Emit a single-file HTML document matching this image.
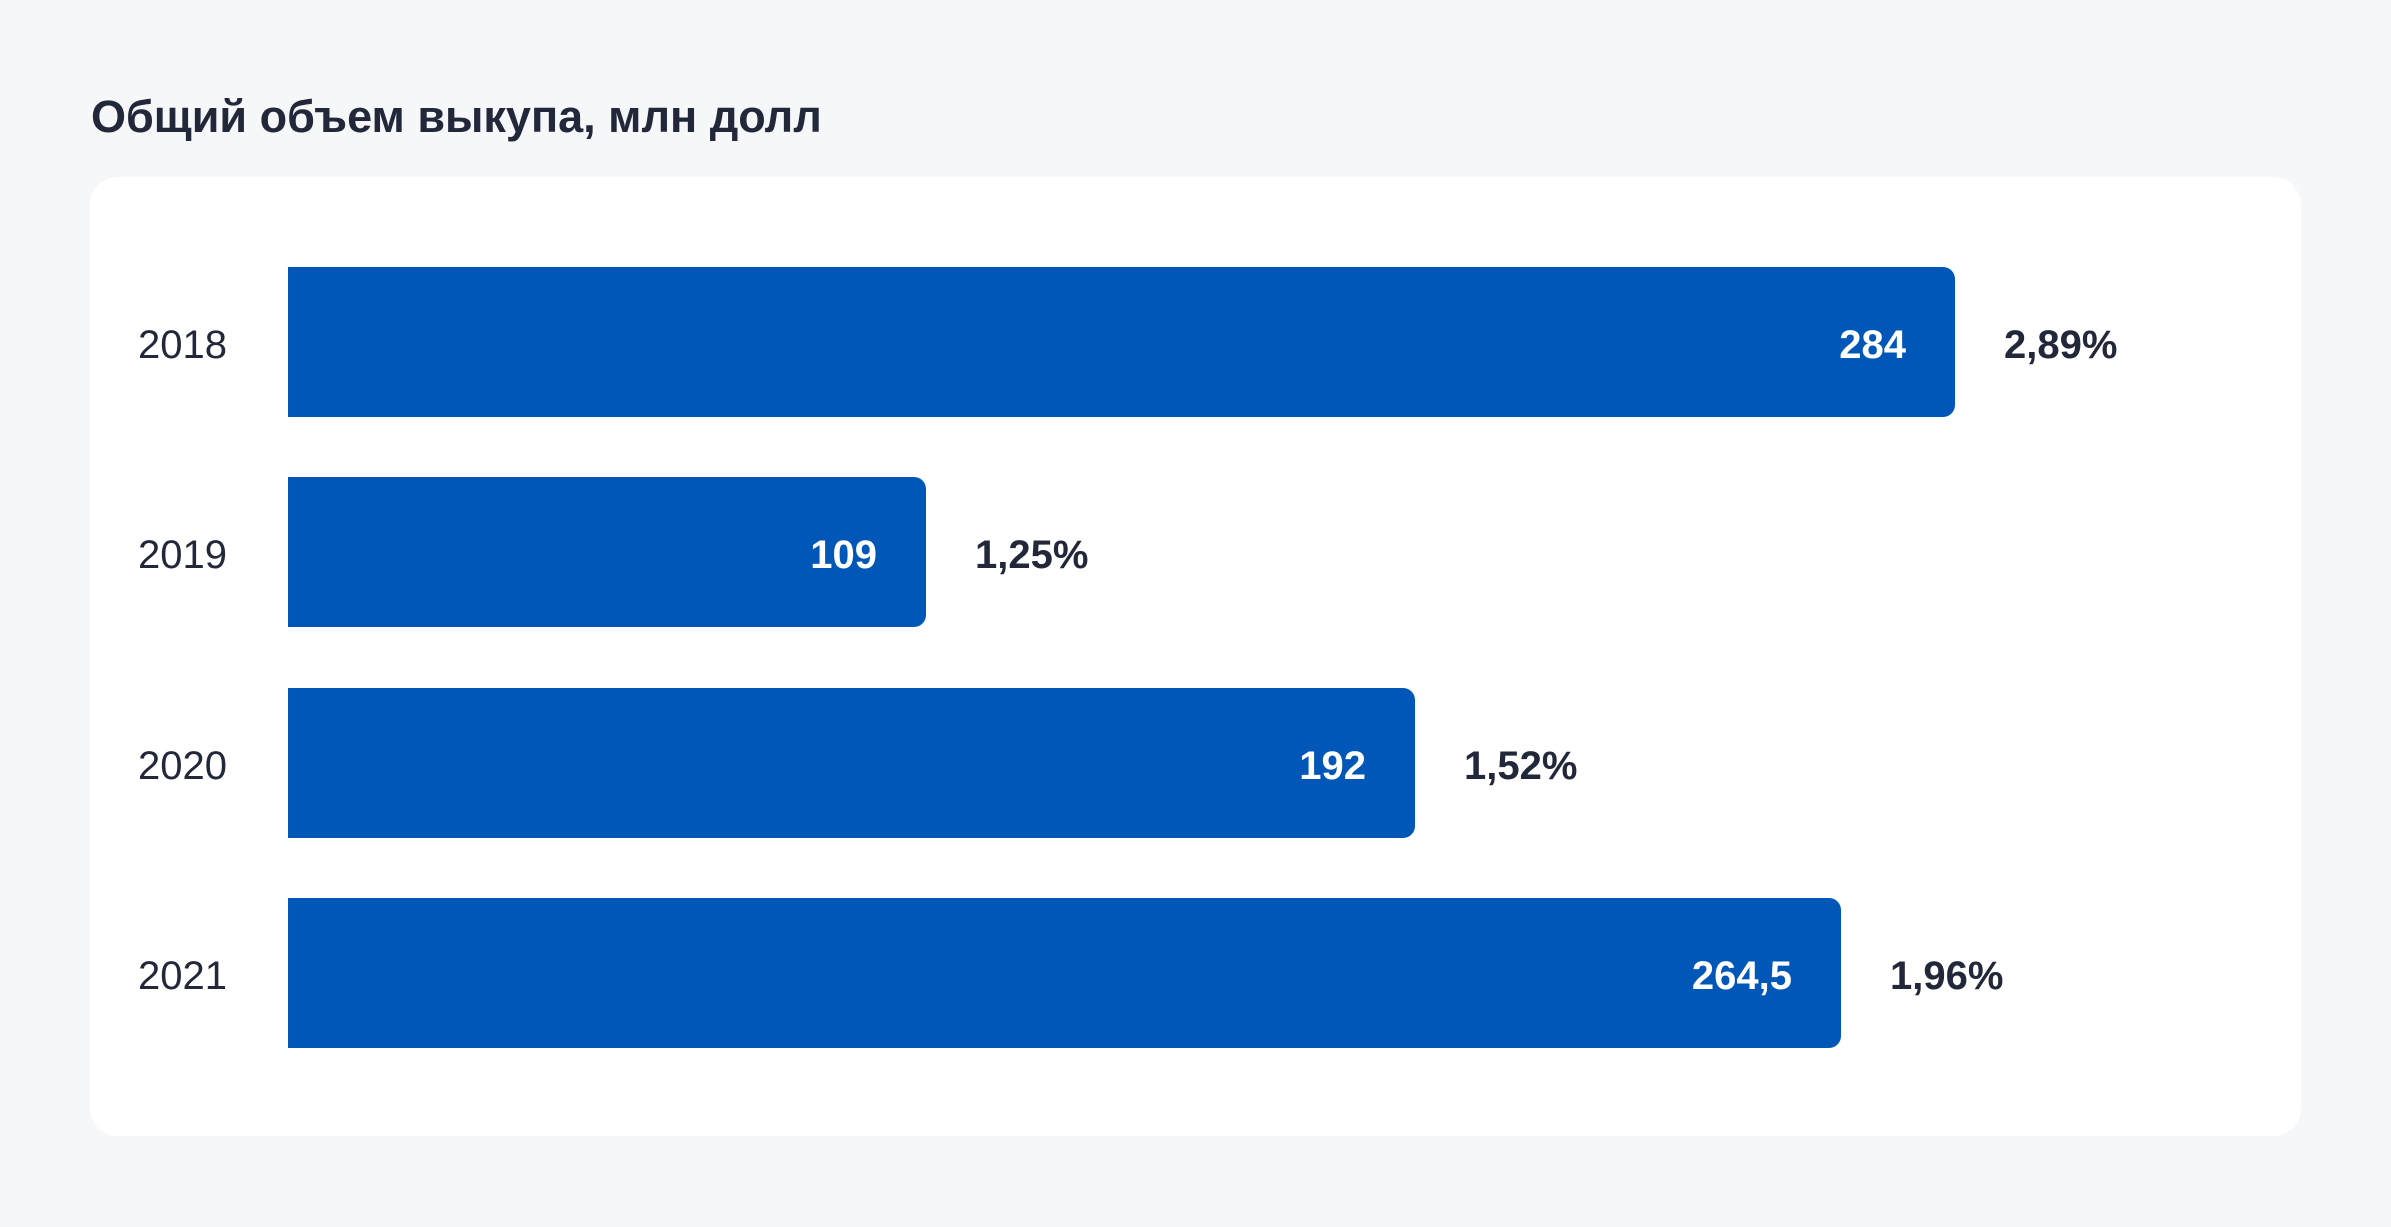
<!DOCTYPE html>
<html><head><meta charset="utf-8"><style>
html,body{margin:0;padding:0}
body{width:2391px;height:1227px;background:#f6f7f9;position:relative;overflow:hidden;font-family:"Liberation Sans",sans-serif;color:#22283a}
.title{position:absolute;left:91px;top:89px;font-size:45px;font-weight:bold;line-height:56px;white-space:nowrap}
.card{position:absolute;left:90px;top:177px;width:2211px;height:959px;background:#fff;border-radius:28px}
.bar{position:absolute;left:288px;height:150px;background:#0057b7;border-radius:0 12px 12px 0}
.val{position:absolute;right:49px;top:3px;line-height:150px;font-size:40px;font-weight:bold;color:#fff}
.yr{position:absolute;left:138px;height:150px;line-height:156px;font-size:40px}
.pct{position:absolute;height:150px;line-height:156px;font-size:40px;font-weight:bold}
</style></head><body>
<div class="title">Общий объем выкупа, млн долл</div>
<div class="card"></div>

<div class="yr" style="top:267px">2018</div>
<div class="bar" style="top:267px;width:1667px"><div class="val">284</div></div>
<div class="pct" style="top:267px;left:2004px">2,89%</div>

<div class="yr" style="top:477px">2019</div>
<div class="bar" style="top:477px;width:638px"><div class="val">109</div></div>
<div class="pct" style="top:477px;left:975px">1,25%</div>

<div class="yr" style="top:688px">2020</div>
<div class="bar" style="top:688px;width:1127px"><div class="val">192</div></div>
<div class="pct" style="top:688px;left:1464px">1,52%</div>

<div class="yr" style="top:898px">2021</div>
<div class="bar" style="top:898px;width:1553px"><div class="val">264,5</div></div>
<div class="pct" style="top:898px;left:1890px">1,96%</div>
</body></html>
